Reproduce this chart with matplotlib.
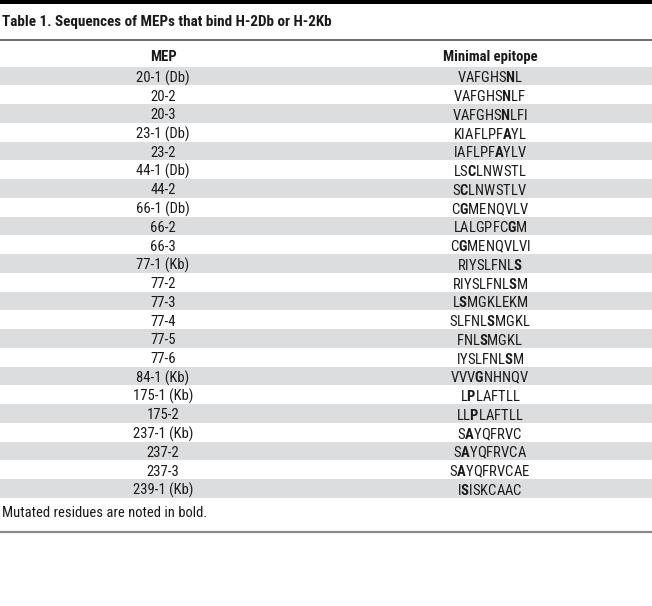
import matplotlib
matplotlib.use("Agg")
import matplotlib.pyplot as plt
from matplotlib import font_manager as fm
from matplotlib.patches import Rectangle

# table content
title = "Table 1. Sequences of MEPs that bind H-2Db or H-2Kb"
col_headers = ["MEP", "Minimal epitope"]
meps = ["20-1 (Db)", "20-2", "20-3", "23-1 (Db)", "23-2", "44-1 (Db)", "44-2",
        "66-1 (Db)", "66-2", "66-3", "77-1 (Kb)", "77-2", "77-3", "77-4", "77-5",
        "77-6", "84-1 (Kb)", "175-1 (Kb)", "175-2", "237-1 (Kb)", "237-2",
        "237-3", "239-1 (Kb)"]
epitopes = ["VAFGHSNL", "VAFGHSNLF", "VAFGHSNLFI", "KIAFLPFAYL", "IAFLPFAYLV",
            "LSCLNWSTL", "SCLNWSTLV", "CGMENQVLV", "LALGPFCGM", "CGMENQVLVI",
            "RIYSLFNLS", "RIYSLFNLSM", "LSMGKLEKM", "SLFNLSMGKL", "FNLSMGKL",
            "IYSLFNLSM", "VVVGNHNQV", "LPLAFTLL", "LLPLAFTLL", "SAYQFRVC",
            "SAYQFRVCA", "SAYQFRVCAE", "ISISKCAAC"]
# index of the mutated (bold) residue in each epitope
bold_idx = [6, 6, 6, 7, 6, 2, 1, 1, 7, 1, 8, 8, 1, 5, 3, 7, 3, 1, 2, 1, 1, 1, 1]
footnote = "Mutated residues are noted in bold."

# pick a narrow face if one is installed, else fall back to Roboto
condensed = {f.name for f in fm.fontManager.ttflist
             if f.stretch in ("condensed", "semi-condensed", "extra-condensed")}
family, stretch = "Roboto", "normal"
for name in ["Liberation Sans Narrow", "Roboto Condensed", "DejaVu Sans", "Noto Sans", "Open Sans"]:
    if name in condensed:
        family, stretch = name, "condensed"
        break

plt.rcParams["font.family"] = [family, "DejaVu Sans"]
plt.rcParams["font.stretch"] = stretch
plt.rcParams["mathtext.fontset"] = "custom"
plt.rcParams["mathtext.bf"] = f"{family}:weight=bold:stretch={stretch}"
plt.rcParams["mathtext.rm"] = f"{family}:stretch={stretch}"

W, H = 652, 606
fig = plt.figure(figsize=(W / 100, H / 100), dpi=100)
ax = fig.add_axes([0, 0, 1, 1])
ax.set_xlim(0, W)
ax.set_ylim(H, 0)
ax.axis("off")

ink = "#1a1a1a"
shade = "#dcdddf"

# size body text so the footnote spans about as wide as in the original
renderer = fig.canvas.get_renderer()
probe = ax.text(0, 0, footnote, fontsize=10)
fs = min(10.5, max(8.8, 10 * 206 / probe.get_window_extent(renderer).width))
probe.remove()
probe = ax.text(0, 0, title, fontsize=12, fontweight="bold")
tfs = min(12.5, max(10, 12 * 330 / probe.get_window_extent(renderer).width))
probe.remove()

# top black bar and rules
ax.add_patch(Rectangle((0, 0), W, 3.5, color="black", lw=0))
ax.plot([0, W], [40, 40], color="#555555", lw=1.2)
ax.text(2, 22, title, fontsize=tfs, fontweight="bold", color=ink,
        ha="left", va="center")

mep_x, epi_x = 163, 490
ax.text(mep_x, 57, col_headers[0], fontsize=fs, fontweight="bold", color=ink,
        ha="center", va="center")
ax.text(epi_x, 57, col_headers[1], fontsize=fs, fontweight="bold", color=ink,
        ha="center", va="center")

row_top, row_h = 66.5, 18.75
for i, (mep, epi, b) in enumerate(zip(meps, epitopes, bold_idx)):
    y0 = row_top + i * row_h
    if i % 2 == 0:
        ax.add_patch(Rectangle((0, y0), W, row_h, color=shade, lw=0))
    yc = y0 + row_h / 2 + 0.5
    ax.text(mep_x, yc, mep, fontsize=fs, color=ink, ha="center", va="center_baseline")
    label = epi[:b] + r"$\mathbf{" + epi[b] + "}$" + epi[b + 1:]
    ax.text(epi_x, yc, label, fontsize=fs, color=ink, ha="center", va="center_baseline")

ax.text(2, 513, footnote, fontsize=fs, color=ink, ha="left", va="center")
ax.plot([0, W], [532, 532], color="#8a8a8a", lw=1.6)

fig.savefig("out.png", dpi=100)
